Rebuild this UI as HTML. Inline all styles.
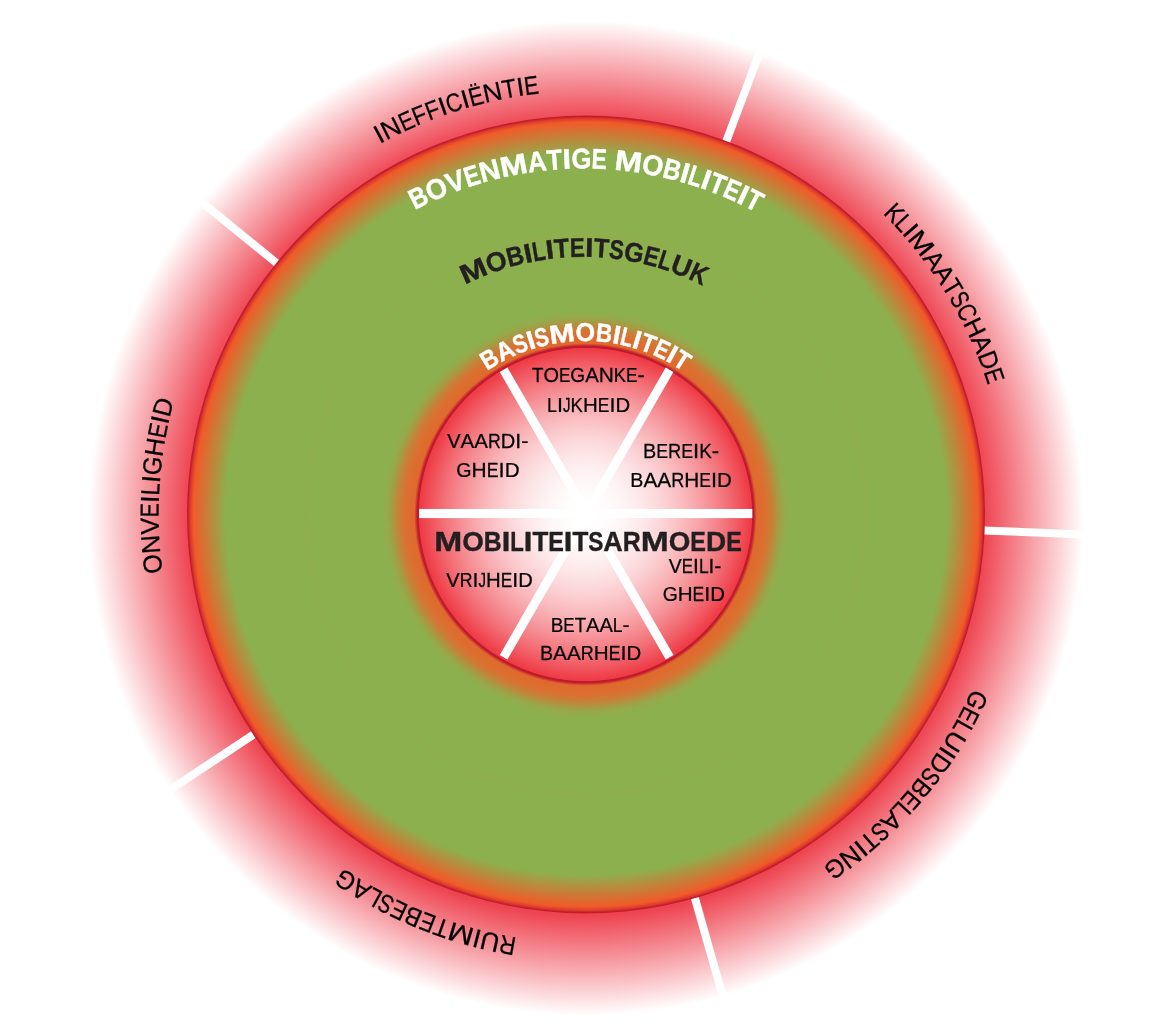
<!DOCTYPE html>
<html><head><meta charset="utf-8"><title>Mobiliteitsdonut</title>
<style>html,body{margin:0;padding:0;background:#fff;overflow:hidden;}svg{display:block;}text{font-family:"Liberation Sans",sans-serif;}</style></head><body>
<svg width="1156" height="1031" viewBox="0 0 1156 1031">
<defs>
<radialGradient id="gGlow" gradientUnits="userSpaceOnUse" cx="586.0" cy="518.0" r="497.5">
<stop offset="0.0000" stop-color="#ee4350"/>
<stop offset="0.7980" stop-color="#ee4350"/>
<stop offset="1.0000" stop-color="#ffffff"/>
</radialGradient>
<radialGradient id="gDisc" gradientUnits="userSpaceOnUse" cx="586.0" cy="514.5" r="399.0">
<stop offset="0.0000" stop-color="#8db04e"/>
<stop offset="0.9023" stop-color="#8db04e"/>
<stop offset="0.9837" stop-color="#f15a29"/>
<stop offset="0.9925" stop-color="#dc3c2b"/>
<stop offset="0.9975" stop-color="#c41c2e"/>
<stop offset="1.0000" stop-color="#c41c2e"/>
</radialGradient>
<radialGradient id="gHalo" gradientUnits="userSpaceOnUse" cx="585.5" cy="514.5" r="202">
<stop offset="0.0000" stop-color="#c01a2e"/>
<stop offset="0.8327" stop-color="#c01a2e"/>
<stop offset="0.8475" stop-color="#e0692d"/>
<stop offset="0.8911" stop-color="#dc6f30"/>
<stop offset="0.9233" stop-color="#c87f38"/>
<stop offset="0.9579" stop-color="#a59c44"/>
<stop offset="0.9851" stop-color="#92ac4c"/>
<stop offset="1.0000" stop-color="#8db04e"/>
</radialGradient>
<radialGradient id="gIn" gradientUnits="userSpaceOnUse" cx="585.5" cy="514.5" r="168.4">
<stop offset="0.0000" stop-color="#ffffff"/>
<stop offset="0.0493" stop-color="#ffffff"/>
<stop offset="0.0987" stop-color="#fffdfd"/>
<stop offset="0.1480" stop-color="#fffbfb"/>
<stop offset="0.1974" stop-color="#fef7f8"/>
<stop offset="0.2467" stop-color="#fef3f3"/>
<stop offset="0.2961" stop-color="#fdedee"/>
<stop offset="0.3454" stop-color="#fde7e8"/>
<stop offset="0.3948" stop-color="#fcdfe1"/>
<stop offset="0.4441" stop-color="#fcd7d9"/>
<stop offset="0.4935" stop-color="#fbced0"/>
<stop offset="0.5428" stop-color="#fac3c6"/>
<stop offset="0.5922" stop-color="#f9b8bc"/>
<stop offset="0.6415" stop-color="#f8acb0"/>
<stop offset="0.6909" stop-color="#f79ea3"/>
<stop offset="0.7402" stop-color="#f59096"/>
<stop offset="0.7895" stop-color="#f48187"/>
<stop offset="0.8389" stop-color="#f37178"/>
<stop offset="0.8882" stop-color="#f15f68"/>
<stop offset="0.9376" stop-color="#f04d56"/>
<stop offset="0.9869" stop-color="#ee3a44"/>
<stop offset="0.9917" stop-color="#c01a2e"/>
<stop offset="1.0000" stop-color="#c01a2e"/>
</radialGradient>
</defs>
<rect width="1156" height="1031" fill="#fff"/>
<circle cx="586.0" cy="518.0" r="497.5" fill="url(#gGlow)"/>
<line x1="726.03" y1="141.95" x2="763.86" y2="41.32" stroke="#fff" stroke-width="8"/>
<line x1="983.68" y1="530.47" x2="1091.09" y2="534.79" stroke="#fff" stroke-width="8"/>
<line x1="694.70" y1="897.37" x2="724.06" y2="1000.78" stroke="#fff" stroke-width="8"/>
<line x1="254.11" y1="734.17" x2="164.47" y2="793.50" stroke="#fff" stroke-width="8"/>
<line x1="277.13" y1="263.49" x2="193.71" y2="195.69" stroke="#fff" stroke-width="8"/>
<circle cx="586.0" cy="514.5" r="399.0" fill="url(#gDisc)"/>
<circle cx="585.5" cy="514.5" r="202" fill="url(#gHalo)"/>
<circle cx="585.5" cy="514.5" r="168.4" fill="url(#gIn)"/>
<circle cx="586.0" cy="514.5" r="280" fill="none" stroke="#d9803a" stroke-opacity="0.4" stroke-width="0.8" stroke-dasharray="1.4 1.6"/>
<circle cx="586.0" cy="514.5" r="201.6" fill="none" stroke="#d9803a" stroke-opacity="0.4" stroke-width="0.8" stroke-dasharray="1.4 1.6"/>
<rect x="419.1" y="508.95" width="333.19999999999993" height="9.150000000000034" fill="#fff"/>
<line x1="586.6" y1="513.5" x2="669.60" y2="369.74" stroke="#fff" stroke-width="8.9"/>
<line x1="586.6" y1="513.5" x2="669.60" y2="657.26" stroke="#fff" stroke-width="8.9"/>
<line x1="586.6" y1="513.5" x2="503.60" y2="657.26" stroke="#fff" stroke-width="8.9"/>
<line x1="586.6" y1="513.5" x2="503.60" y2="369.74" stroke="#fff" stroke-width="8.9"/>
<g style="will-change:transform" font-size="26.0" font-weight="400" fill="#000" stroke="#000" stroke-width="0.25" text-anchor="middle">
<text transform="translate(383.01,142.25) rotate(-28.27) scale(1.0327,1)">I</text>
<text transform="translate(394.81,136.14) rotate(-26.51) scale(1.0179,1)">N</text>
<text transform="translate(409.97,128.95) rotate(-24.28) scale(0.8336,1)">E</text>
<text transform="translate(422.85,123.38) rotate(-22.42) scale(0.8566,1)">F</text>
<text transform="translate(435.51,118.39) rotate(-20.62) scale(0.8566,1)">F</text>
<text transform="translate(445.41,114.81) rotate(-19.22) scale(1.0327,1)">I</text>
<text transform="translate(456.43,111.13) rotate(-17.68) scale(0.8408,1)">C</text>
<text transform="translate(467.55,107.75) rotate(-16.14) scale(1.0327,1)">I</text>
<text transform="translate(478.12,104.83) rotate(-14.69) scale(0.8336,1)">Ë</text>
<text transform="translate(494.43,100.89) rotate(-12.46) scale(1.0179,1)">N</text>
<text transform="translate(510.87,97.59) rotate(-10.24) scale(0.9084,1)">T</text>
<text transform="translate(521.66,95.78) rotate(-8.79) scale(1.0327,1)">I</text>
<text transform="translate(532.51,94.25) rotate(-7.34) scale(0.8336,1)">E</text>
</g>
<g style="will-change:transform" font-size="26.0" font-weight="400" fill="#000" stroke="#000" stroke-width="0.25" text-anchor="middle">
<text transform="translate(887.95,219.15) rotate(45.63) scale(0.8712,1)">K</text>
<text transform="translate(897.35,229.08) rotate(47.49) scale(0.8455,1)">L</text>
<text transform="translate(903.87,236.36) rotate(48.81) scale(1.0143,1)">I</text>
<text transform="translate(914.24,248.67) rotate(51.00) scale(1.1480,1)">M</text>
<text transform="translate(926.95,265.19) rotate(53.82) scale(0.9703,1)">A</text>
<text transform="translate(936.61,278.96) rotate(56.11) scale(0.9703,1)">A</text>
<text transform="translate(945.01,291.98) rotate(58.21) scale(0.8923,1)">T</text>
<text transform="translate(952.08,303.80) rotate(60.08) scale(0.7705,1)">S</text>
<text transform="translate(959.06,316.43) rotate(62.03) scale(0.8258,1)">C</text>
<text transform="translate(966.65,331.43) rotate(64.32) scale(0.9650,1)">H</text>
<text transform="translate(973.89,347.33) rotate(66.69) scale(0.9703,1)">A</text>
<text transform="translate(980.43,363.41) rotate(69.04) scale(0.9529,1)">D</text>
<text transform="translate(985.89,378.50) rotate(71.22) scale(0.8188,1)">E</text>
</g>
<g style="will-change:transform" font-size="26.0" font-weight="400" fill="#000" stroke="#000" stroke-width="0.25" text-anchor="middle">
<text transform="translate(968.66,696.75) rotate(115.47) scale(0.9188,1)">G</text>
<text transform="translate(961.28,711.49) rotate(117.69) scale(0.8293,1)">E</text>
<text transform="translate(954.88,723.23) rotate(119.50) scale(0.8563,1)">L</text>
<text transform="translate(946.93,736.70) rotate(121.62) scale(1.0064,1)">U</text>
<text transform="translate(939.85,747.80) rotate(123.40) scale(1.0273,1)">I</text>
<text transform="translate(932.67,758.35) rotate(125.12) scale(0.9651,1)">D</text>
<text transform="translate(923.32,771.12) rotate(127.26) scale(0.7804,1)">S</text>
<text transform="translate(914.17,782.73) rotate(129.26) scale(0.9238,1)">B</text>
<text transform="translate(904.34,794.32) rotate(131.32) scale(0.8293,1)">E</text>
<text transform="translate(895.35,804.23) rotate(133.12) scale(0.8563,1)">L</text>
<text transform="translate(885.11,814.79) rotate(135.11) scale(0.9827,1)">A</text>
<text transform="translate(874.08,825.38) rotate(137.18) scale(0.7804,1)">S</text>
<text transform="translate(863.70,834.69) rotate(139.06) scale(0.9037,1)">T</text>
<text transform="translate(855.39,841.72) rotate(140.54) scale(1.0273,1)">I</text>
<text transform="translate(845.05,849.96) rotate(142.32) scale(1.0126,1)">N</text>
<text transform="translate(829.93,861.11) rotate(144.86) scale(0.9188,1)">G</text>
</g>
<g style="will-change:transform" font-size="26.0" font-weight="400" fill="#000" stroke="#000" stroke-width="0.25" text-anchor="middle">
<text transform="translate(509.17,936.39) rotate(190.32) scale(0.8575,1)">R</text>
<text transform="translate(491.96,932.89) rotate(192.67) scale(1.0133,1)">U</text>
<text transform="translate(479.08,929.79) rotate(194.44) scale(1.0343,1)">I</text>
<text transform="translate(463.27,925.39) rotate(196.63) scale(1.1707,1)">M</text>
<text transform="translate(444.34,919.26) rotate(199.29) scale(0.9099,1)">T</text>
<text transform="translate(430.77,914.25) rotate(201.22) scale(0.8350,1)">E</text>
<text transform="translate(416.60,908.45) rotate(203.27) scale(0.9302,1)">B</text>
<text transform="translate(402.65,902.16) rotate(205.31) scale(0.8350,1)">E</text>
<text transform="translate(390.05,895.94) rotate(207.19) scale(0.7857,1)">S</text>
<text transform="translate(378.54,889.81) rotate(208.93) scale(0.8622,1)">L</text>
<text transform="translate(365.70,882.42) rotate(210.91) scale(0.9894,1)">A</text>
<text transform="translate(350.51,872.89) rotate(213.31) scale(0.9251,1)">G</text>
</g>
<g style="will-change:transform" font-size="26.0" font-weight="400" fill="#000" stroke="#000" stroke-width="0.25" text-anchor="middle">
<text transform="translate(161.34,563.05) rotate(263.48) scale(0.9659,1)">O</text>
<text transform="translate(159.58,543.84) rotate(266.06) scale(1.0142,1)">N</text>
<text transform="translate(158.72,525.97) rotate(268.46) scale(0.9652,1)">V</text>
<text transform="translate(158.59,510.40) rotate(270.55) scale(0.8306,1)">E</text>
<text transform="translate(158.83,499.49) rotate(272.01) scale(1.0290,1)">I</text>
<text transform="translate(159.30,489.58) rotate(273.34) scale(0.8577,1)">L</text>
<text transform="translate(159.99,479.69) rotate(274.67) scale(1.0290,1)">I</text>
<text transform="translate(161.25,466.73) rotate(276.42) scale(0.9203,1)">G</text>
<text transform="translate(163.71,448.40) rotate(278.90) scale(0.9789,1)">H</text>
<text transform="translate(166.56,432.25) rotate(281.09) scale(0.8306,1)">E</text>
<text transform="translate(168.80,421.57) rotate(282.56) scale(1.0290,1)">I</text>
<text transform="translate(171.76,409.12) rotate(284.27) scale(0.9667,1)">D</text>
</g>
<g style="will-change:transform" font-size="28.5" font-weight="700" fill="#fff" stroke="#fff" stroke-width="0.4" text-anchor="middle">
<text transform="translate(422.66,206.12) rotate(-26.32) scale(0.8516,1)">B</text>
<text transform="translate(440.21,198.01) rotate(-23.27) scale(0.9533,1)">O</text>
<text transform="translate(458.65,190.67) rotate(-20.13) scale(0.9775,1)">V</text>
<text transform="translate(474.67,185.22) rotate(-17.46) scale(0.8030,1)">E</text>
<text transform="translate(491.93,180.26) rotate(-14.62) scale(1.0030,1)">N</text>
<text transform="translate(515.33,174.98) rotate(-10.82) scale(1.1521,1)">M</text>
<text transform="translate(538.19,171.36) rotate(-7.16) scale(0.9206,1)">A</text>
<text transform="translate(555.33,169.62) rotate(-4.44) scale(0.8900,1)">T</text>
<text transform="translate(567.22,168.89) rotate(-2.56) scale(1.0537,1)">I</text>
<text transform="translate(581.36,168.54) rotate(-0.32) scale(0.8995,1)">G</text>
<text transform="translate(598.96,168.86) rotate(2.46) scale(0.8030,1)">E</text>
<text transform="translate(627.24,171.19) rotate(6.95) scale(1.1521,1)">M</text>
<text transform="translate(651.19,174.92) rotate(10.78) scale(0.9533,1)">O</text>
<text transform="translate(670.07,179.04) rotate(13.83) scale(0.8516,1)">B</text>
<text transform="translate(682.57,182.36) rotate(15.88) scale(1.0537,1)">I</text>
<text transform="translate(692.90,185.47) rotate(17.58) scale(0.7601,1)">L</text>
<text transform="translate(703.14,188.88) rotate(19.29) scale(1.0537,1)">I</text>
<text transform="translate(714.32,193.00) rotate(21.17) scale(0.8900,1)">T</text>
<text transform="translate(728.54,198.86) rotate(23.60) scale(0.8030,1)">E</text>
<text transform="translate(739.28,203.76) rotate(25.47) scale(1.0537,1)">I</text>
<text transform="translate(749.95,209.06) rotate(27.35) scale(0.8900,1)">T</text>
</g>
<g style="will-change:transform" font-size="27.0" font-weight="700" fill="#231f20" stroke="#231f20" stroke-width="0.4" text-anchor="middle">
<text transform="translate(476.94,279.17) rotate(-23.75) scale(1.1958,1)">M</text>
<text transform="translate(499.17,270.57) rotate(-18.56) scale(0.9894,1)">O</text>
<text transform="translate(517.39,265.18) rotate(-14.42) scale(0.8838,1)">B</text>
<text transform="translate(529.78,262.31) rotate(-11.65) scale(1.0936,1)">I</text>
<text transform="translate(540.20,260.38) rotate(-9.34) scale(0.7889,1)">L</text>
<text transform="translate(550.70,258.87) rotate(-7.03) scale(1.0936,1)">I</text>
<text transform="translate(562.36,257.69) rotate(-4.48) scale(0.9237,1)">T</text>
<text transform="translate(577.46,256.95) rotate(-1.18) scale(0.8335,1)">E</text>
<text transform="translate(589.07,256.96) rotate(1.34) scale(1.0936,1)">I</text>
<text transform="translate(600.78,257.50) rotate(3.90) scale(0.9237,1)">T</text>
<text transform="translate(615.59,258.93) rotate(7.14) scale(0.8076,1)">S</text>
<text transform="translate(632.46,261.60) rotate(10.86) scale(0.9336,1)">G</text>
<text transform="translate(649.34,265.42) rotate(14.63) scale(0.8335,1)">E</text>
<text transform="translate(662.79,269.31) rotate(17.68) scale(0.7889,1)">L</text>
<text transform="translate(678.24,274.77) rotate(21.24) scale(1.0133,1)">U</text>
<text transform="translate(695.04,281.99) rotate(25.23) scale(0.8630,1)">K</text>
</g>
<g style="will-change:transform" font-size="25.9" font-weight="700" fill="#fff" stroke="#fff" stroke-width="0.4" text-anchor="middle">
<text transform="translate(494.00,366.49) rotate(-31.41) scale(0.8697,1)">B</text>
<text transform="translate(508.85,358.38) rotate(-25.84) scale(0.9402,1)">A</text>
<text transform="translate(523.23,352.20) rotate(-20.69) scale(0.7947,1)">S</text>
<text transform="translate(533.39,348.72) rotate(-17.16) scale(1.0761,1)">I</text>
<text transform="translate(543.74,345.87) rotate(-13.63) scale(0.7947,1)">S</text>
<text transform="translate(562.96,342.33) rotate(-7.20) scale(1.1767,1)">M</text>
<text transform="translate(585.40,340.96) rotate(0.20) scale(0.9736,1)">O</text>
<text transform="translate(603.31,341.95) rotate(6.10) scale(0.8697,1)">B</text>
<text transform="translate(615.19,343.63) rotate(10.05) scale(1.0761,1)">I</text>
<text transform="translate(625.00,345.66) rotate(13.34) scale(0.7763,1)">L</text>
<text transform="translate(634.67,348.25) rotate(16.63) scale(1.0761,1)">I</text>
<text transform="translate(645.16,351.75) rotate(20.27) scale(0.9090,1)">T</text>
<text transform="translate(658.34,357.24) rotate(24.96) scale(0.8202,1)">E</text>
<text transform="translate(668.12,362.17) rotate(28.57) scale(1.0761,1)">I</text>
<text transform="translate(677.66,367.76) rotate(32.20) scale(0.9090,1)">T</text>
</g>
<g style="will-change:transform">
<g font-size="20.5" font-weight="400" fill="#000" stroke="#000" stroke-width="0.25" text-anchor="middle">
<text transform="translate(537.65,382.3) scale(0.9126,1)">T</text>
<text transform="translate(551.13,382.3) scale(0.9738,1)">O</text>
<text transform="translate(564.62,382.3) scale(0.8374,1)">E</text>
<text transform="translate(577.74,382.3) scale(0.9278,1)">G</text>
<text transform="translate(591.92,382.3) scale(0.9924,1)">A</text>
<text transform="translate(606.28,382.3) scale(1.0225,1)">N</text>
<text transform="translate(619.94,382.3) scale(0.8910,1)">K</text>
<text transform="translate(631.76,382.3) scale(0.8374,1)">E</text>
<text transform="translate(641.07,382.3) scale(1.0517,1)">-</text>
</g>
<g font-size="20.5" font-weight="400" fill="#000" stroke="#000" stroke-width="0.25" text-anchor="middle">
<text transform="translate(551.97,411.7) scale(0.8778,1)">L</text>
<text transform="translate(559.98,411.7) scale(1.0530,1)">I</text>
<text transform="translate(566.77,411.7) scale(0.7405,1)">J</text>
<text transform="translate(576.75,411.7) scale(0.9045,1)">K</text>
<text transform="translate(590.35,411.7) scale(1.0018,1)">H</text>
<text transform="translate(603.58,411.7) scale(0.8501,1)">E</text>
<text transform="translate(612.39,411.7) scale(1.0530,1)">I</text>
<text transform="translate(622.71,411.7) scale(0.9893,1)">D</text>
</g>
<g font-size="20.5" font-weight="400" fill="#000" stroke="#000" stroke-width="0.25" text-anchor="middle">
<text transform="translate(453.88,447.8) scale(0.9797,1)">V</text>
<text transform="translate(467.41,447.8) scale(0.9991,1)">A</text>
<text transform="translate(481.07,447.8) scale(0.9991,1)">A</text>
<text transform="translate(494.31,447.8) scale(0.8659,1)">R</text>
<text transform="translate(507.98,447.8) scale(0.9812,1)">D</text>
<text transform="translate(518.22,447.8) scale(1.0444,1)">I</text>
<text transform="translate(524.81,447.8) scale(1.0588,1)">-</text>
</g>
<g font-size="20.5" font-weight="400" fill="#000" stroke="#000" stroke-width="0.25" text-anchor="middle">
<text transform="translate(463.91,476.9) scale(0.9593,1)">G</text>
<text transform="translate(479.12,476.9) scale(1.0204,1)">H</text>
<text transform="translate(492.59,476.9) scale(0.8659,1)">E</text>
<text transform="translate(501.56,476.9) scale(1.0726,1)">I</text>
<text transform="translate(512.08,476.9) scale(1.0077,1)">D</text>
</g>
<g font-size="20.5" font-weight="400" fill="#000" stroke="#000" stroke-width="0.25" text-anchor="middle">
<text transform="translate(649.52,457.8) scale(0.9675,1)">B</text>
<text transform="translate(662.07,457.8) scale(0.8685,1)">E</text>
<text transform="translate(674.61,457.8) scale(0.8919,1)">R</text>
<text transform="translate(687.15,457.8) scale(0.8685,1)">E</text>
<text transform="translate(696.15,457.8) scale(1.0758,1)">I</text>
<text transform="translate(705.53,457.8) scale(0.9240,1)">K</text>
<text transform="translate(715.57,457.8) scale(1.0906,1)">-</text>
</g>
<g font-size="20.5" font-weight="400" fill="#000" stroke="#000" stroke-width="0.25" text-anchor="middle">
<text transform="translate(636.85,486.9) scale(0.9571,1)">B</text>
<text transform="translate(650.35,486.9) scale(1.0181,1)">A</text>
<text transform="translate(664.27,486.9) scale(1.0181,1)">A</text>
<text transform="translate(677.76,486.9) scale(0.8824,1)">R</text>
<text transform="translate(691.79,486.9) scale(1.0125,1)">H</text>
<text transform="translate(705.16,486.9) scale(0.8591,1)">E</text>
<text transform="translate(714.06,486.9) scale(1.0643,1)">I</text>
<text transform="translate(724.49,486.9) scale(0.9998,1)">D</text>
</g>
<g font-size="27.5" font-weight="700" fill="#231f20" stroke="#231f20" stroke-width="0.4" text-anchor="middle">
<text transform="translate(448.22,551.4) scale(1.2215,1)">M</text>
<text transform="translate(473.02,551.4) scale(1.0107,1)">O</text>
<text transform="translate(492.80,551.4) scale(0.9029,1)">B</text>
<text transform="translate(506.03,551.4) scale(1.1171,1)">I</text>
<text transform="translate(517.07,551.4) scale(0.8059,1)">L</text>
<text transform="translate(528.10,551.4) scale(1.1171,1)">I</text>
<text transform="translate(540.30,551.4) scale(0.9436,1)">T</text>
<text transform="translate(556.03,551.4) scale(0.8514,1)">E</text>
<text transform="translate(568.11,551.4) scale(1.1171,1)">I</text>
<text transform="translate(580.30,551.4) scale(0.9436,1)">T</text>
<text transform="translate(595.79,551.4) scale(0.8250,1)">S</text>
<text transform="translate(613.05,551.4) scale(0.9761,1)">A</text>
<text transform="translate(631.76,551.4) scale(0.9076,1)">R</text>
<text transform="translate(654.76,551.4) scale(1.2215,1)">M</text>
<text transform="translate(679.56,551.4) scale(1.0107,1)">O</text>
<text transform="translate(698.18,551.4) scale(0.8514,1)">E</text>
<text transform="translate(716.07,551.4) scale(1.0154,1)">D</text>
<text transform="translate(733.96,551.4) scale(0.8514,1)">E</text>
</g>
<g font-size="20.5" font-weight="400" fill="#000" stroke="#000" stroke-width="0.25" text-anchor="middle">
<text transform="translate(452.97,586.5) scale(0.9803,1)">V</text>
<text transform="translate(466.09,586.5) scale(0.8665,1)">R</text>
<text transform="translate(475.48,586.5) scale(1.0451,1)">I</text>
<text transform="translate(482.22,586.5) scale(0.7349,1)">J</text>
<text transform="translate(493.35,586.5) scale(0.9943,1)">H</text>
<text transform="translate(506.47,586.5) scale(0.8437,1)">E</text>
<text transform="translate(515.22,586.5) scale(1.0451,1)">I</text>
<text transform="translate(525.46,586.5) scale(0.9818,1)">D</text>
</g>
<g font-size="20.5" font-weight="400" fill="#000" stroke="#000" stroke-width="0.25" text-anchor="middle">
<text transform="translate(675.35,572.6) scale(0.9535,1)">V</text>
<text transform="translate(687.48,572.6) scale(0.8205,1)">E</text>
<text transform="translate(695.99,572.6) scale(1.0165,1)">I</text>
<text transform="translate(703.71,572.6) scale(0.8473,1)">L</text>
<text transform="translate(711.44,572.6) scale(1.0165,1)">I</text>
<text transform="translate(717.85,572.6) scale(1.0305,1)">-</text>
</g>
<g font-size="20.5" font-weight="400" fill="#000" stroke="#000" stroke-width="0.25" text-anchor="middle">
<text transform="translate(670.16,601.1) scale(0.9455,1)">G</text>
<text transform="translate(685.14,601.1) scale(1.0058,1)">H</text>
<text transform="translate(698.42,601.1) scale(0.8534,1)">E</text>
<text transform="translate(707.27,601.1) scale(1.0572,1)">I</text>
<text transform="translate(717.63,601.1) scale(0.9932,1)">D</text>
</g>
<g font-size="20.5" font-weight="400" fill="#000" stroke="#000" stroke-width="0.25" text-anchor="middle">
<text transform="translate(557.03,631.7) scale(0.9231,1)">B</text>
<text transform="translate(569.00,631.7) scale(0.8286,1)">E</text>
<text transform="translate(580.32,631.7) scale(0.9030,1)">T</text>
<text transform="translate(592.69,631.7) scale(0.9819,1)">A</text>
<text transform="translate(606.11,631.7) scale(0.9819,1)">A</text>
<text transform="translate(617.70,631.7) scale(0.8556,1)">L</text>
<text transform="translate(626.13,631.7) scale(1.0406,1)">-</text>
</g>
<g font-size="20.5" font-weight="400" fill="#000" stroke="#000" stroke-width="0.25" text-anchor="middle">
<text transform="translate(546.55,660.4) scale(0.9526,1)">B</text>
<text transform="translate(559.99,660.4) scale(1.0134,1)">A</text>
<text transform="translate(573.85,660.4) scale(1.0134,1)">A</text>
<text transform="translate(587.28,660.4) scale(0.8783,1)">R</text>
<text transform="translate(601.24,660.4) scale(1.0078,1)">H</text>
<text transform="translate(614.55,660.4) scale(0.8552,1)">E</text>
<text transform="translate(623.41,660.4) scale(1.0593,1)">I</text>
<text transform="translate(633.79,660.4) scale(0.9952,1)">D</text>
</g>
</g>
</svg></body></html>
